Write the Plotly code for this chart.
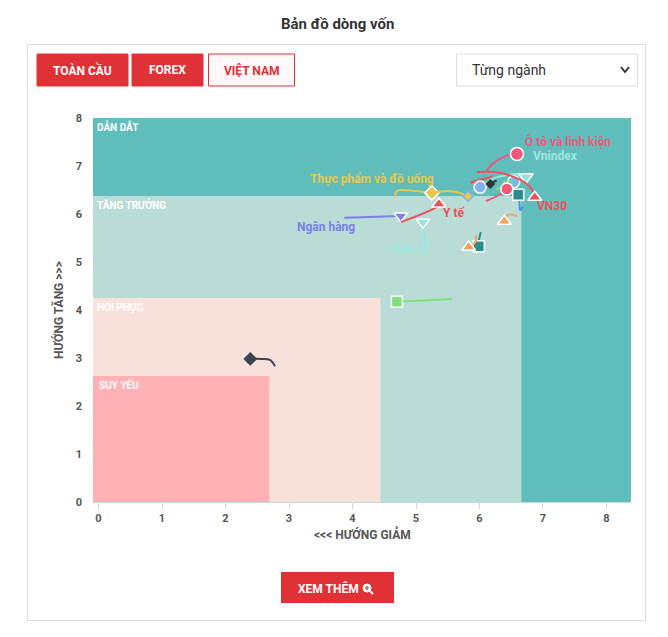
import plotly.graph_objects as go

# ---------------- data ----------------
X_TICKS = [0, 1, 2, 3, 4, 5, 6, 7, 8]
Y_TICKS = [0, 1, 2, 3, 4, 5, 6, 7, 8]
X_RANGE = [-0.087, 8.386]
Y_RANGE = [0, 8]

ZONE_NAMES = ["SUY YẾU", "HỒI PHỤC", "TĂNG TRƯỞNG", "DẪN DẮT"]
ZONE_X_MAX = [2.69, 4.44, 6.66, 8.386]
ZONE_Y_MAX = [2.625, 4.25, 6.375, 8.0]

OTO_X = [6.10, 6.17, 6.26, 6.42, 6.59]
OTO_Y = [6.875, 7.00, 7.10, 7.21, 7.25]
VNINDEX_X = [6.02, 6.20, 6.43, 6.60, 6.73]
VNINDEX_Y = [6.52, 6.73, 6.81, 6.83, 6.77]
VN30_X = [5.96, 6.24, 6.51, 6.72, 6.83, 6.87]
VN30_Y = [6.875, 6.875, 6.79, 6.65, 6.50, 6.35]
YTE_X = [4.76, 5.33, 5.36]
YTE_Y = [5.83, 6.15, 6.21]
THUCPHAM_X = [4.67, 4.70, 4.98, 5.25]
THUCPHAM_Y = [6.35, 6.48, 6.48, 6.44]
NGANHANG_X = [3.87, 4.76]
NGANHANG_Y = [5.92, 5.96]
BANLE_X = [5.17, 5.14, 5.11]
BANLE_Y = [5.19, 5.50, 5.83]

S1_X = [5.25, 5.49, 5.69, 5.82]      # yellow small diamond
S1_Y = [6.44, 6.48, 6.44, 6.37]
S2_X = [5.57, 4.70]                  # green square
S2_Y = [4.23, 4.17]
S3_X = [2.78, 2.70, 2.57, 2.39]      # dark diamond
S3_Y = [2.83, 2.96, 2.98, 2.98]
S4_X = [6.02, 5.99, 5.99]            # teal square low
S4_Y = [5.625, 5.44, 5.33]
S5_X = [5.94, 5.94, 5.83]            # orange triangle low
S5_Y = [5.56, 5.42, 5.31]
S6_X = [6.59, 6.45, 6.39]            # orange triangle high
S6_Y = [5.96, 5.98, 5.85]
S7_X = [6.68, 6.64, 6.63, 6.61]      # teal square high
S7_Y = [6.15, 6.08, 6.23, 6.40]
S8_X = [5.87, 6.01]                  # blue circle left
S8_Y = [6.48, 6.56]
S9_X = [6.40, 6.54]                  # blue circle right
S9_Y = [6.60, 6.67]
S10_X = [6.10, 6.28, 6.43]           # pink circle
S10_Y = [6.27, 6.375, 6.52]
S11_X = [6.27, 6.17]                 # dark small diamond
S11_Y = [6.70, 6.625]
S12_X = [6.26, 6.39, 6.45]           # light green square small
S12_Y = [6.52, 6.56, 6.60]
S13_X = [5.85, 6.12, 6.21]           # extra red trail
S13_Y = [6.65, 6.75, 6.79]

SERIES = [
    # xs, ys, line color, symbol, size, marker fill, marker line color
    (S13_X, S13_Y, "#F04E5A", "circle", 0, "#F04E5A", "white"),
    (S3_X, S3_Y, "#3D4450", "diamond", 9, "#3D4450", "#3D4450"),
    (S2_X, S2_Y, "#7EE07A", "square", 11, "#7EE07A", "white"),
    (NGANHANG_X, NGANHANG_Y, "#7B7FE6", "triangle-down", 12, "#7B7FE6", "white"),
    (BANLE_X, BANLE_Y, "#93E6E0", "triangle-down", 12, "#93E6E0", "white"),
    (YTE_X, YTE_Y, "#F04E5A", "triangle-up", 12, "#F04E5A", "white"),
    (THUCPHAM_X, THUCPHAM_Y, "#E6C84B", "diamond", 11, "#E6C84B", "white"),
    (S1_X, S1_Y, "#E6C84B", "diamond", 8, "#E6C84B", "#7FB2F0"),
    (S4_X, S4_Y, "#2A8C8C", "square", 11, "#2A8C8C", "white"),
    (S5_X, S5_Y, "#F5A25D", "triangle-up", 12, "#F5A25D", "white"),
    (S6_X, S6_Y, "#F5A25D", "triangle-up", 12, "#F5A25D", "white"),
    (S7_X, S7_Y, "#4C8FE0", "square", 11, "#2A8C8C", "white"),
    (VNINDEX_X, VNINDEX_Y, "#93E6E0", "triangle-down", 13, "#93E6E0", "white"),
    (S8_X, S8_Y, "#7FB2F0", "circle", 12, "#7FB2F0", "white"),
    (S9_X, S9_Y, "#7FB2F0", "circle", 12, "#7FB2F0", "white"),
    (S11_X, S11_Y, "#333333", "diamond", 6, "#333333", "#333333"),
    (S12_X, S12_Y, "#7EE07A", "square", 8, "rgba(0,0,0,0)", "#7EE07A"),
    (VN30_X, VN30_Y, "#F04E5A", "triangle-up", 12, "#F04E5A", "white"),
    (S10_X, S10_Y, "#F0577A", "circle", 12, "#F0577A", "white"),
    (OTO_X, OTO_Y, "#F0577A", "circle", 13, "#F0577A", "white"),
]

LABELS = ["Ô tô và linh kiện", "Vnindex", "VN30", "Y tế",
          "Thực phẩm và đồ uống", "Ngân hàng", "Bán lẻ"]
LABEL_X = [7.39, 7.20, 7.14, 5.60, 4.31, 3.58, 4.91]
LABEL_Y = [7.52, 7.21, 6.17, 6.02, 6.73, 5.73, 5.27]
LABEL_COLORS = ["#F0577A", "#9FE7E1", "#F04E5A", "#F04E5A",
                "#E6C84B", "#7B7FE6", "#9FE7E1"]

# ---------------- layout helpers ----------------
OFF = 8                      # page body margin of the browser
W, H = 668 - OFF, 637 - OFF
ML, MR, MT, MB = 93 - OFF, 37, 118 - OFF, 135
PW = W - ML - MR
PH = H - MT - MB
BOTTOM = 502                 # page y of plot bottom


def px(x):
    return (x - 93) / PW


def py(y):
    return (BOTTOM - y) / PH


FONT = "Roboto"
RED = "#E03236"

fig = go.Figure()

# zones
ZONE_FILL = ["#FFB1B6", "#F8E1DB", "#B9DDD6", "#5FBEBC"]
shapes = []
for i in range(3, -1, -1):
    shapes.append(dict(type="rect", xref="x", yref="y", layer="below",
                       x0=X_RANGE[0], x1=ZONE_X_MAX[i], y0=0, y1=ZONE_Y_MAX[i],
                       fillcolor=ZONE_FILL[i], line=dict(width=0)))
# diagonal
shapes.append(dict(type="line", xref="paper", yref="paper", layer="below",
                   x0=0, y0=0, x1=1, y1=1,
                   line=dict(color="#E8414A", width=1.2, dash="dot")))

annotations = []


def txt(x, y, t, size, color, bold=True, xa="center", **kw):
    f = dict(family=FONT, size=size, color=color)
    if bold:
        f["weight"] = "bold"
    annotations.append(dict(xref="paper", yref="paper", x=px(x), y=py(y), text=t,
                            showarrow=False, xanchor=xa, yanchor="middle", font=f, **kw))


# zone label boxes
ZONE_BOX = [(95, 154, 376, 393, "#FF0000"), (93, 157, 298, 315, "#FFC000"),
            (93, 176, 196, 213, "#6BAA3E"), (93, 149, 118, 135, "#2F73C3")]
for i, (a, b, c, d, col) in enumerate(ZONE_BOX):
    shapes.append(dict(type="rect", xref="paper", yref="paper", layer="below",
                       x0=px(a), x1=px(b), y0=py(d), y1=py(c),
                       fillcolor=col, line=dict(width=0)))
    txt(a + 2, (c + d) / 2, ZONE_NAMES[i], 10, "white", xa="left")

# traces
for xs, ys, col, sym, size, fill, lc in SERIES:
    fig.add_trace(go.Scatter(x=xs, y=ys, mode="lines",
                             line=dict(color=col, width=2, shape="spline"),
                             hoverinfo="skip", showlegend=False))
    if size > 0:
        fig.add_trace(go.Scatter(x=[xs[-1]], y=[ys[-1]], mode="markers",
                                 marker=dict(symbol=sym, size=size, color=fill,
                                             line=dict(color=lc, width=1.5)),
                                 showlegend=False))

for t, x, y, c in zip(LABELS, LABEL_X, LABEL_Y, LABEL_COLORS):
    annotations.append(dict(x=x, y=y, xref="x", yref="y", text=t, showarrow=False,
                            xanchor="center", yanchor="middle",
                            font=dict(family=FONT, size=12, color=c, weight="bold")))

# axis titles
txt(362, 534, "<<< HƯỚNG GIẢM", 12, "#555")
txt(58, 310, "HƯỚNG TĂNG >>>", 12, "#555", textangle=-90)

# page chrome: title, card, buttons
txt(337, 24, "Bản đồ dòng vốn", 15, "#333")
shapes.append(dict(type="rect", xref="paper", yref="paper", layer="below",
                   x0=px(27.5), x1=px(645.5), y0=py(620.5), y1=py(44.5),
                   fillcolor="rgba(0,0,0,0)", line=dict(color="#DDDDDD", width=1)))
BTNS = [("TOÀN CẦU", 37, 128, RED, "white", RED),
        ("FOREX", 132, 203, RED, "white", RED),
        ("VIỆT NAM", 208.5, 294.5, "#FFF8F8", RED, RED)]
for t, a, b, fill, tc, lc in BTNS:
    shapes.append(dict(type="rect", xref="paper", yref="paper",
                       x0=px(a), x1=px(b), y0=py(86), y1=py(54),
                       fillcolor=fill, line=dict(color=lc, width=1)))
    txt((a + b) / 2, 70, t, 12, tc)
# dropdown
shapes.append(dict(type="rect", xref="paper", yref="paper",
                   x0=px(456.5), x1=px(637.5), y0=py(86), y1=py(54),
                   fillcolor="white", line=dict(color="#DDDDDD", width=1)))
txt(470, 70, "Từng ngành", 14, "#333", bold=False, xa="left")
shapes.append(dict(type="path", xref="paper", yref="paper",
                   path=f"M {px(621)} {py(67)} L {px(625)} {py(72)} L {px(629)} {py(67)}",
                   line=dict(color="#333", width=2)))
# more button
shapes.append(dict(type="rect", xref="paper", yref="paper",
                   x0=px(281), x1=px(394), y0=py(603), y1=py(572),
                   fillcolor=RED, line=dict(width=0)))
txt(328, 588, "XEM THÊM", 12, "white")
shapes.append(dict(type="circle", xref="paper", yref="paper",
                   x0=px(363), x1=px(371), y0=py(592), y1=py(584),
                   fillcolor="white", line=dict(color="white", width=1)))
shapes.append(dict(type="line", xref="paper", yref="paper",
                   x0=px(370), x1=px(373), y0=py(591), y1=py(594),
                   line=dict(color="white", width=2)))
shapes.append(dict(type="path", xref="paper", yref="paper",
                   path=f"M {px(365)} {py(588)} L {px(369)} {py(588)} M {px(367)} {py(586)} L {px(367)} {py(590)}",
                   line=dict(color=RED, width=1.2)))

fig.update_layout(
    width=W, height=H,
    margin=dict(l=ML, r=MR, t=MT, b=MB, autoexpand=False),
    paper_bgcolor="white", plot_bgcolor="#5FBEBC",
    shapes=shapes, annotations=annotations,
    showlegend=False,
    xaxis=dict(range=X_RANGE, tickvals=X_TICKS, showgrid=False, zeroline=False,
               showline=True, linecolor="#CCD6EB", ticks="outside", ticklen=6,
               tickcolor="#CCD6EB",
               tickfont=dict(family=FONT, size=11, color="#555", weight="bold")),
    yaxis=dict(range=Y_RANGE, tickvals=Y_TICKS, showgrid=False, zeroline=False,
               showline=False, ticks="", ticklabelstandoff=10,
               tickfont=dict(family=FONT, size=11, color="#555", weight="bold")),
)

fig.write_html("out.html")
